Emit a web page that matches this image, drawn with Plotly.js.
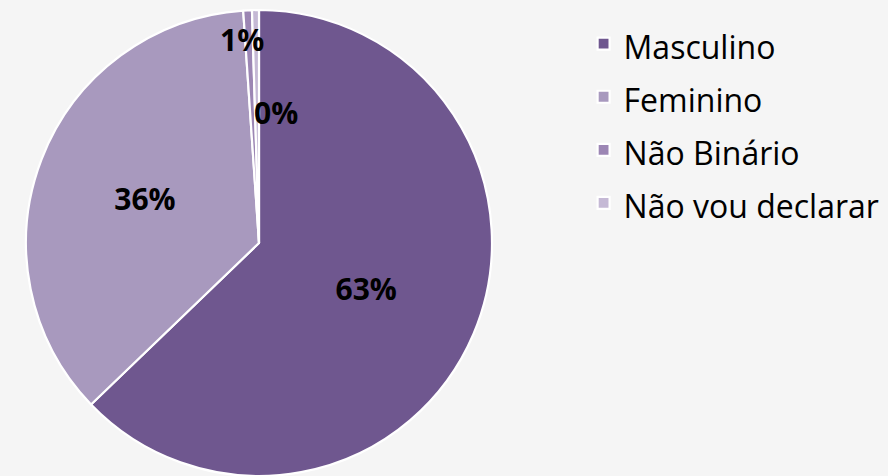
<!DOCTYPE html>
<html>
<head>
<meta charset="utf-8">
<script src="https://cdn.plot.ly/plotly-3.0.1.min.js"></script>
<style>html,body{margin:0;padding:0;background:#f5f5f5;}#chart{width:888px;height:476px;}</style>
</head>
<body>
<div id="chart"></div>
<script>
var categories = ["Masculino", "Feminino", "Não Binário", "Não vou declarar"];
var values = [62.8, 36.1, 0.6, 0.48];
var colors = ["#6f578f", "#a899be", "#9c86b4", "#c5b9d5"];

var total = values.reduce(function(a, b){ return a + b; }, 0);
function pct(v){ return Math.round(v / total * 100) + "%"; }
var legendLabels = categories.map(function(c){ return '<span style="font-size:32px">' + c + '</span>'; });

var trace = {
  type: "pie",
  labels: legendLabels,
  values: values,
  sort: false,
  direction: "clockwise",
  rotation: 0,
  marker: {colors: colors, line: {color: "#ffffff", width: 2.2}},
  texttemplate: "%{percent:.0%}",
  textposition: ["inside", "inside", "none", "none"],
  insidetextorientation: "horizontal",
  textfont: {family: "Open Sans", size: 30, color: "#000000", weight: "bold"},
  hoverinfo: "label+percent",
  domain: {x: [0.02928, 0.55405], y: [0, 0.979]}
};

var layout = {
  width: 888,
  height: 476,
  margin: {l: 0, r: 0, t: 0, b: 0},
  paper_bgcolor: "#f5f5f5",
  plot_bgcolor: "#f5f5f5",
  showlegend: true,
  legend: {
    x: 0.6572, xanchor: "left",
    y: 0.9744, yanchor: "top",
    font: {family: "Open Sans", size: 38.5, color: "#000000"},
    bgcolor: "rgba(0,0,0,0)"
  },
  annotations: [
    {text: "<b>" + pct(values[2]) + "</b>", x: 242/888, y: 1 - 39/476, xref: "paper", yref: "paper",
     xanchor: "center", yanchor: "middle",
     showarrow: false, font: {family: "Open Sans", size: 30, color: "#000000"}},
    {text: "<b>" + pct(values[3]) + "</b>", x: 276/888, y: 1 - 112/476, xref: "paper", yref: "paper",
     xanchor: "center", yanchor: "middle",
     showarrow: false, font: {family: "Open Sans", size: 30, color: "#000000"}}
  ]
};

Plotly.newPlot("chart", [trace], layout, {displayModeBar: false, staticPlot: true});
</script>
</body>
</html>
